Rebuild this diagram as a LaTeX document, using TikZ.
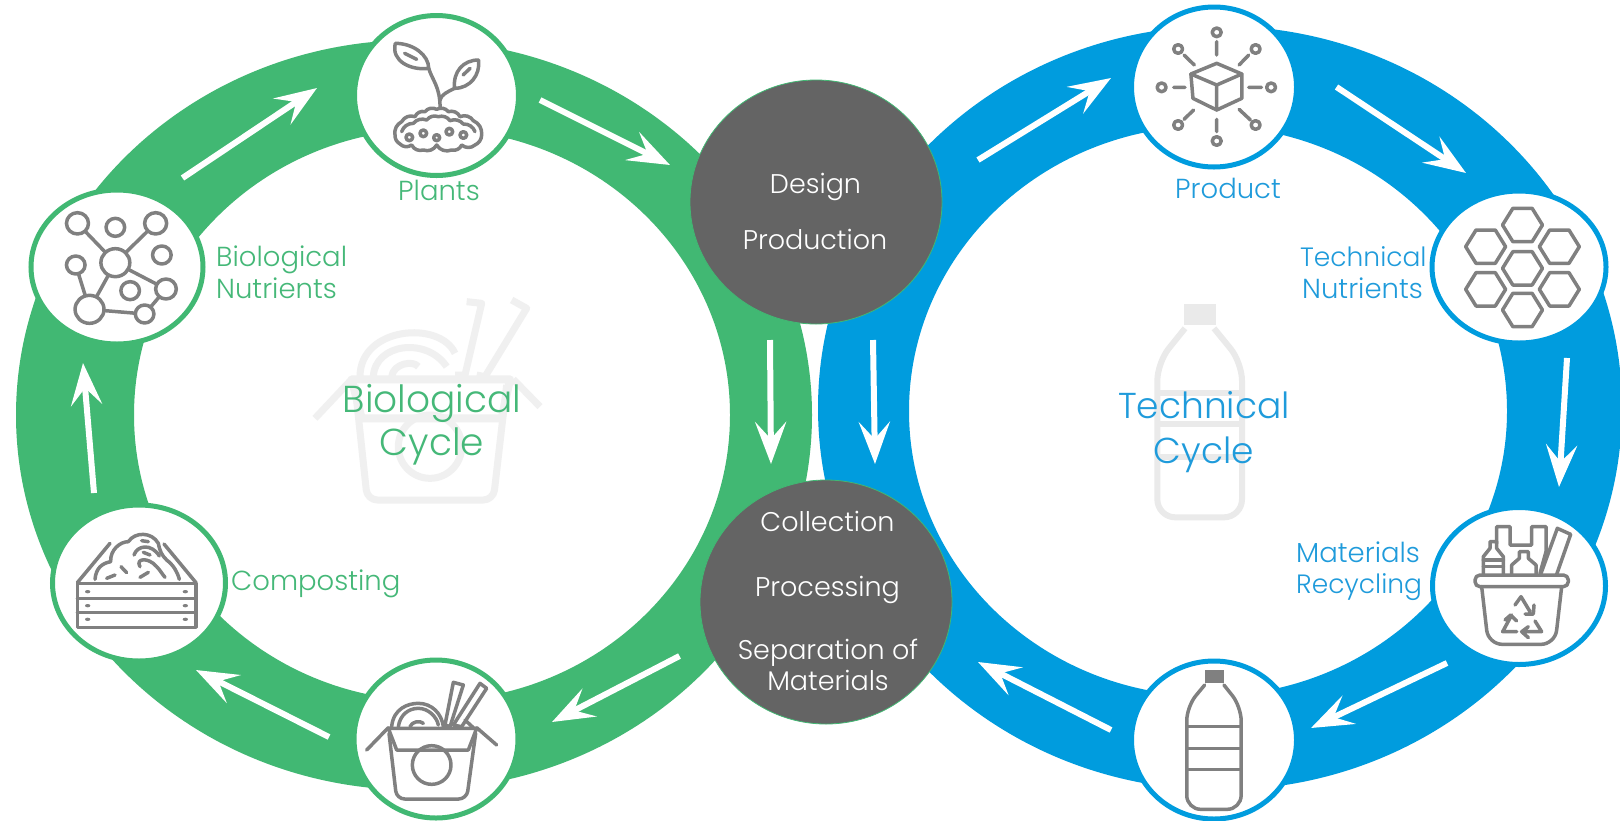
\documentclass[tikz,border=0pt]{standalone}
\usepackage{fontspec}
\setmainfont{Poppins Light}
\usetikzlibrary{arrows.meta,shapes.geometric}
\definecolor{ringg}{HTML}{41B873}
\definecolor{ringb}{HTML}{009CDE}
\definecolor{txtg}{HTML}{45B878}
\definecolor{txtb}{HTML}{1F9BDB}
\definecolor{hubc}{HTML}{646464}
\definecolor{icon}{HTML}{808080}
\definecolor{ghost}{HTML}{EAEAEA}
\definecolor{ghostb}{HTML}{F0F0F0}
\tikzset{
  stationg/.style={ellipse,draw=ringg,line width=5pt,fill=white,inner sep=0pt},
  stationb/.style={ellipse,draw=ringb,line width=5pt,fill=white,inner sep=0pt},
  hub/.style={ellipse,draw=ringg,line width=0.8pt,fill=hubc,inner sep=0pt,minimum width=252pt,minimum height=244pt},
  flow/.style={white,line width=6pt,-{Stealth[length=42pt,width=31pt,inset=17pt]}},
  ico/.style={draw=icon,line width=3.5pt,line join=round,line cap=round},
  bg/.style={draw=ghost,line width=6pt,line join=round},
  bgn/.style={draw=ghostb,line width=7pt,line join=round},
  lblg/.style={text=txtg,inner sep=0pt,font=\fontsize{27.5}{30}\selectfont},
  lblb/.style={text=txtb,inner sep=0pt,font=\fontsize{27.5}{30}\selectfont},
  lblw/.style={text=white,inner sep=0pt,anchor=base,font=\fontsize{27}{30}\selectfont},
  bigg/.style={text=txtg,inner sep=0pt,anchor=base,font=\fontsize{37.5}{42}\selectfont},
  bigb/.style={text=txtb,inner sep=0pt,anchor=base,font=\fontsize{36}{42}\selectfont},
  zm/.style={x=0.34435pt,y=-0.33333pt},
  zt/.style={x=0.33333pt,y=-0.33333pt},
}
\begin{document}
\begin{tikzpicture}[x=1pt,y=-1pt]
\useasboundingbox (0,0) rectangle (1620,820);
\clip (0,0) rectangle (1620,820);
\fill[white] (0,0) rectangle (1620,820);
% rings
\fill[ringg,even odd rule] (414,415) ellipse [x radius=398,y radius=375] (432,415) ellipse [x radius=298,y radius=286];
\fill[ringb,even odd rule] (1220,408) ellipse [x radius=402,y radius=382] (1208,411) ellipse [x radius=299,y radius=285];
% ghost noodle box
\begin{scope}[shift={(280,270)},zt]
\draw[bgn] (560,95)--(605,100)--(555,315)--(525,315);
\draw[bgn] (695,90)--(740,115)--(615,320)--(590,315);
\draw[bgn] (240,320) .. controls (240,170) and (480,150) .. (525,250);
\draw[bgn] (280,320) .. controls (285,220) and (440,200) .. (500,290);
\draw[bgn] (335,320) .. controls (340,280) and (400,270) .. (415,290);
\draw[bgn,line width=8pt] (215,328)--(690,328)--(665,445)--(245,445)--cycle;
\draw[bgn] (215,328)--(105,445);
\draw[bgn] (700,328)--(780,410);
\draw[bgn,rounded corners=10pt] (225,345)--(262,690)--(640,690)--(680,345);
\draw[bgn] (450,530) circle [radius=95];
\end{scope}
% ghost bottle
\begin{scope}[shift={(1060,270)},zt]
\fill[ghost] (372,102) rectangle (468,165);
\draw[bg,rounded corners=18pt] (375,175)--(292,278)--(292,742)--(546,742)--(546,278)--(462,175);
\draw[bg] (295,368)--(543,368) (295,462)--(543,462) (295,560)--(543,560);
\end{scope}
% arrows
\coordinate (a1s) at (182.5,178); \coordinate (a1e) at (317,88);
\coordinate (a2s) at (540,100); \coordinate (a2e) at (670,165);
\coordinate (a3s) at (770,340); \coordinate (a3e) at (771,464);
\coordinate (a4s) at (873,340); \coordinate (a4e) at (875,464);
\coordinate (a5s) at (679.5,656); \coordinate (a5e) at (552,722);
\coordinate (a6s) at (329,737); \coordinate (a6e) at (196,670);
\coordinate (a7s) at (94,493); \coordinate (a7e) at (83,363);
\coordinate (a8s) at (1111,730); \coordinate (a8e) at (978,662);
\coordinate (a9s) at (978,160); \coordinate (a9e) at (1111,78);
\coordinate (a10s) at (1336.5,87); \coordinate (a10e) at (1466,173);
\coordinate (a11s) at (1567,358); \coordinate (a11e) at (1559,487);
\coordinate (a12s) at (1447,663); \coordinate (a12e) at (1311,728);
\foreach \i in {1,...,12} {\draw[flow] (a\i s) -- (a\i e);}
% stations
\node[stationg,minimum width=164pt,minimum height=160pt] (plants) at (436.5,95.5) {};
\node[stationg,minimum width=172pt,minimum height=154pt] (nutr) at (117,267) {};
\node[stationg,minimum width=173pt,minimum height=156pt] (comp) at (139,583) {};
\node[stationg,minimum width=164pt,minimum height=158pt] (noodle) at (436,739) {};
\node[stationb,minimum width=165pt,minimum height=160pt] (product) at (1214,87) {};
\node[stationb,minimum width=174pt,minimum height=152pt] (tech) at (1519,267) {};
\node[stationb,minimum width=173pt,minimum height=157pt] (recyc) at (1519,586) {};
\node[stationb,minimum width=165pt,minimum height=158pt] (bottle) at (1214,740) {};
\node[hub] (design) at (816,202) {};
\node[hub] (collect) at (826,602) {};
% plant icon
\begin{scope}[zm]
\draw[ico] (1148,130) .. controls (1200,130) and (1245,165) .. (1245,205) .. controls (1195,212) and (1135,185) .. (1148,130);
\draw[ico] (1175,160)--(1210,178);
\draw[ico] (1390,180) .. controls (1345,180) and (1315,215) .. (1320,265) .. controls (1365,265) and (1395,225) .. (1390,180);
\draw[ico] (1345,225)--(1365,205);
\draw[ico] (1245,205) .. controls (1255,240) and (1278,260) .. (1278,322);
\draw[ico] (1320,265) .. controls (1300,275) and (1280,285) .. (1278,300);
% nutrients icon
\draw[ico] (225,670)--(335,788) (452,670)--(335,788) (335,788)--(482,867) (335,788)--(260,928) (220,795)--(260,928) (260,928)--(420,942) (420,942)--(482,867);
\foreach \p/\q/\r in {225/670/32,335/682/27,452/670/32,470/765/27,335/788/42,220/795/27,482/867/30,378/872/27,260/928/42,420/942/27} {\draw[ico,fill=white] (\p,\q) circle [radius=\r];}
\end{scope}
% soil
\begin{scope}[shift={(380,100)},zt]
\draw[ico] (45,105) to[bend left=35] (65,65) to[bend left=40] (105,50) to[bend left=40] (135,35) to[bend left=40] (170,28) to[bend left=40] (205,35) to[bend left=40] (240,50) to[bend left=40] (280,62) to[bend left=35] (305,105) to[bend left=30] (285,135) to[bend left=40] (245,135) to[bend left=40] (215,150) to[bend left=40] (170,135) to[bend left=40] (130,150) to[bend left=40] (95,135) to[bend left=40] (60,132) to[bend left=30] (45,105);
\draw[ico] (65,95) to[bend left=35] (100,70) to[bend left=35] (140,60) to[bend left=35] (175,50) to[bend left=35] (210,62) to[bend left=35] (250,72) to[bend left=35] (285,95);
\foreach \p/\q/\r in {88/112/10,130/100/10,170/113/9,208/95/10,250/105/10} {\draw[ico] (\p,\q) circle [radius=\r];}
\end{scope}
% compost
\begin{scope}[shift={(60,520)},zt]
\draw[ico] (52,190) rectangle (408,322);
\draw[ico] (52,235)--(408,235) (52,278)--(408,278);
\foreach \p/\q in {83/215,376/215,83/257,376/257,83/298,376/298} {\fill[icon] (\p,\q) ellipse [x radius=8,y radius=5];}
\draw[ico] (52,188)--(150,70) (408,188)--(312,72);
\draw[ico] (105,178) .. controls (108,145) and (125,130) .. (152,125) .. controls (150,90) and (180,65) .. (205,65) .. controls (225,35) and (275,35) .. (295,70) .. controls (300,95) and (305,105) .. (320,120) .. controls (340,135) and (352,155) .. (358,178);
\draw[ico] (222,105) .. controls (232,75) and (275,70) .. (298,108);
\draw[ico] (240,140) .. controls (225,115) and (265,110) .. (290,140) .. controls (300,150) and (305,160) .. (315,172);
\draw[ico] (140,175)--(165,165) (183,140)--(200,158) (240,172)--(265,157) (250,97)--(270,105) (245,62)--(265,65);
\end{scope}
% noodle
\begin{scope}[shift={(365,675)},zt]
\draw[ico] (80,155) .. controls (85,100) and (130,85) .. (160,85) .. controls (200,85) and (230,115) .. (235,155);
\draw[ico] (100,155) .. controls (105,120) and (130,100) .. (160,100) .. controls (190,100) and (215,125) .. (220,150);
\draw[ico] (135,155) .. controls (140,140) and (165,135) .. (175,145);
\draw[ico] (265,22)--(295,30)--(255,155)--(240,150)--cycle;
\draw[ico] (345,25)--(365,40)--(290,155)--(265,150)--cycle;
\draw[ico] (300,135)--(325,158);
\draw[ico,rounded corners=8pt] (72,175)--(95,372)--(305,372)--(332,175);
\draw[ico,fill=white] (70,160)--(335,160)--(310,225)--(95,225)--cycle;
\draw[ico] (70,158)--(5,225) (335,158)--(395,210);
\draw[ico] (200,270) circle [radius=58];
\end{scope}
% product and hexagon icons
\begin{scope}[shift={(1080,0)},zm]
\draw[ico] (397,190)--(470,222)--(470,295)--(397,330)--(328,295)--(322,222)--cycle;
\draw[ico] (322,222)--(397,255)--(470,222) (397,255)--(397,330);
\draw[ico] (397,125)--(397,165) (490,165)--(462,195) (527,262)--(490,262) (495,360)--(462,328) (397,395)--(397,358) (302,358)--(330,330) (272,262)--(305,262) (302,165)--(332,195);
\foreach \p/\q in {397/97,510/147,555/262,510/375,397/423,285/375,237/262,285/147} {\draw[ico] (\p,\q) circle [radius=13];}
\foreach \cx/\cy in {1285/675,1178/740,1392/740,1285/805,1178/868,1392/868,1285/930} {
  \draw[draw=icon,line width=3.5pt,line join=round] (\cx-58,\cy)--(\cx-28,\cy-50)--(\cx+28,\cy-50)--(\cx+58,\cy)--(\cx+28,\cy+50)--(\cx-28,\cy+50)--cycle;}
\end{scope}
% recycling
\begin{scope}[shift={(1460,515)},zt]
\draw[ico,rounded corners=5pt] (45,180) rectangle (325,215);
\draw[ico,rounded corners=14pt] (65,215)--(85,388)--(285,388)--(305,215);
\draw[ico] (110,85)--(110,35)--(150,35)--(150,90)--(215,90)--(215,35)--(258,35)--(258,110)--(240,175);
\draw[ico] (70,178)--(70,125)--(90,100)--(90,80)--(110,80)--(110,100)--(130,125)--(130,178);
\draw[ico] (70,135)--(130,135) (70,155)--(130,155);
\draw[ico] (155,178)--(155,150)--(178,130)--(178,110)--(205,110)--(205,130)--(228,150)--(228,178);
\draw[ico] (243,175)--(292,40)--(332,58)--(290,178);
\draw[ico] (165,270)--(183,245)--(210,290) (195,297)--(220,297)--(222,270);
\draw[ico] (155,300)--(128,350)--(170,350) (135,315)--(152,300)--(170,318);
\draw[ico] (190,350)--(245,350)--(225,318) (205,335)--(185,350)--(205,368);
\end{scope}
% bottle
\begin{scope}[shift={(1080,410)},zm]
\fill[icon] (362,780) rectangle (418,820);
\draw[ico,rounded corners=14pt] (362,825)--(310,890)--(310,1198)--(468,1198)--(468,890)--(418,825);
\draw[ico] (310,950)--(468,950) (310,1015)--(468,1015) (310,1078)--(468,1078);
\end{scope}
% labels
\node[lblg,anchor=base] (tplants) at (439,200) {Plants};
\node[lblg,anchor=base west] (tn1) at (216,266) {Biological};
\node[lblg,anchor=base west] (tn2) at (216,298) {Nutrients};
\node[lblg,anchor=base west] (tcomp) at (231,590) {Composting};
\node[lblb,anchor=base] (tprod) at (1228,198) {Product};
\node[lblb,anchor=base west,font=\fontsize{26.5}{30}\selectfont] (tt1) at (1300,266) {Technical};
\node[lblb,anchor=base west] (tt2) at (1302,298) {Nutrients};
\node[lblb,anchor=base west] (tm1) at (1296,562) {Materials};
\node[lblb,anchor=base west,font=\fontsize{26.5}{30}\selectfont] (tm2) at (1296,593) {Recycling};
\node[lblw] (td1) at (815.5,193) {Design};
\node[lblw] (td2) at (815,249) {Production};
\node[lblw] (tc1) at (827.5,531) {Collection};
\node[lblw] (tc2) at (827.5,596) {Processing};
\node[lblw] (tc3) at (828,659) {Separation of};
\node[lblw] (tc4) at (828,690) {Materials};
\node[bigg] (tb1) at (432,412) {Biological};
\node[bigg] (tb2) at (432,455) {Cycle};
\node[bigb] (tk1) at (1204,418) {Technical};
\node[bigb] (tk2) at (1204,463) {Cycle};
\end{tikzpicture}
\end{document}
